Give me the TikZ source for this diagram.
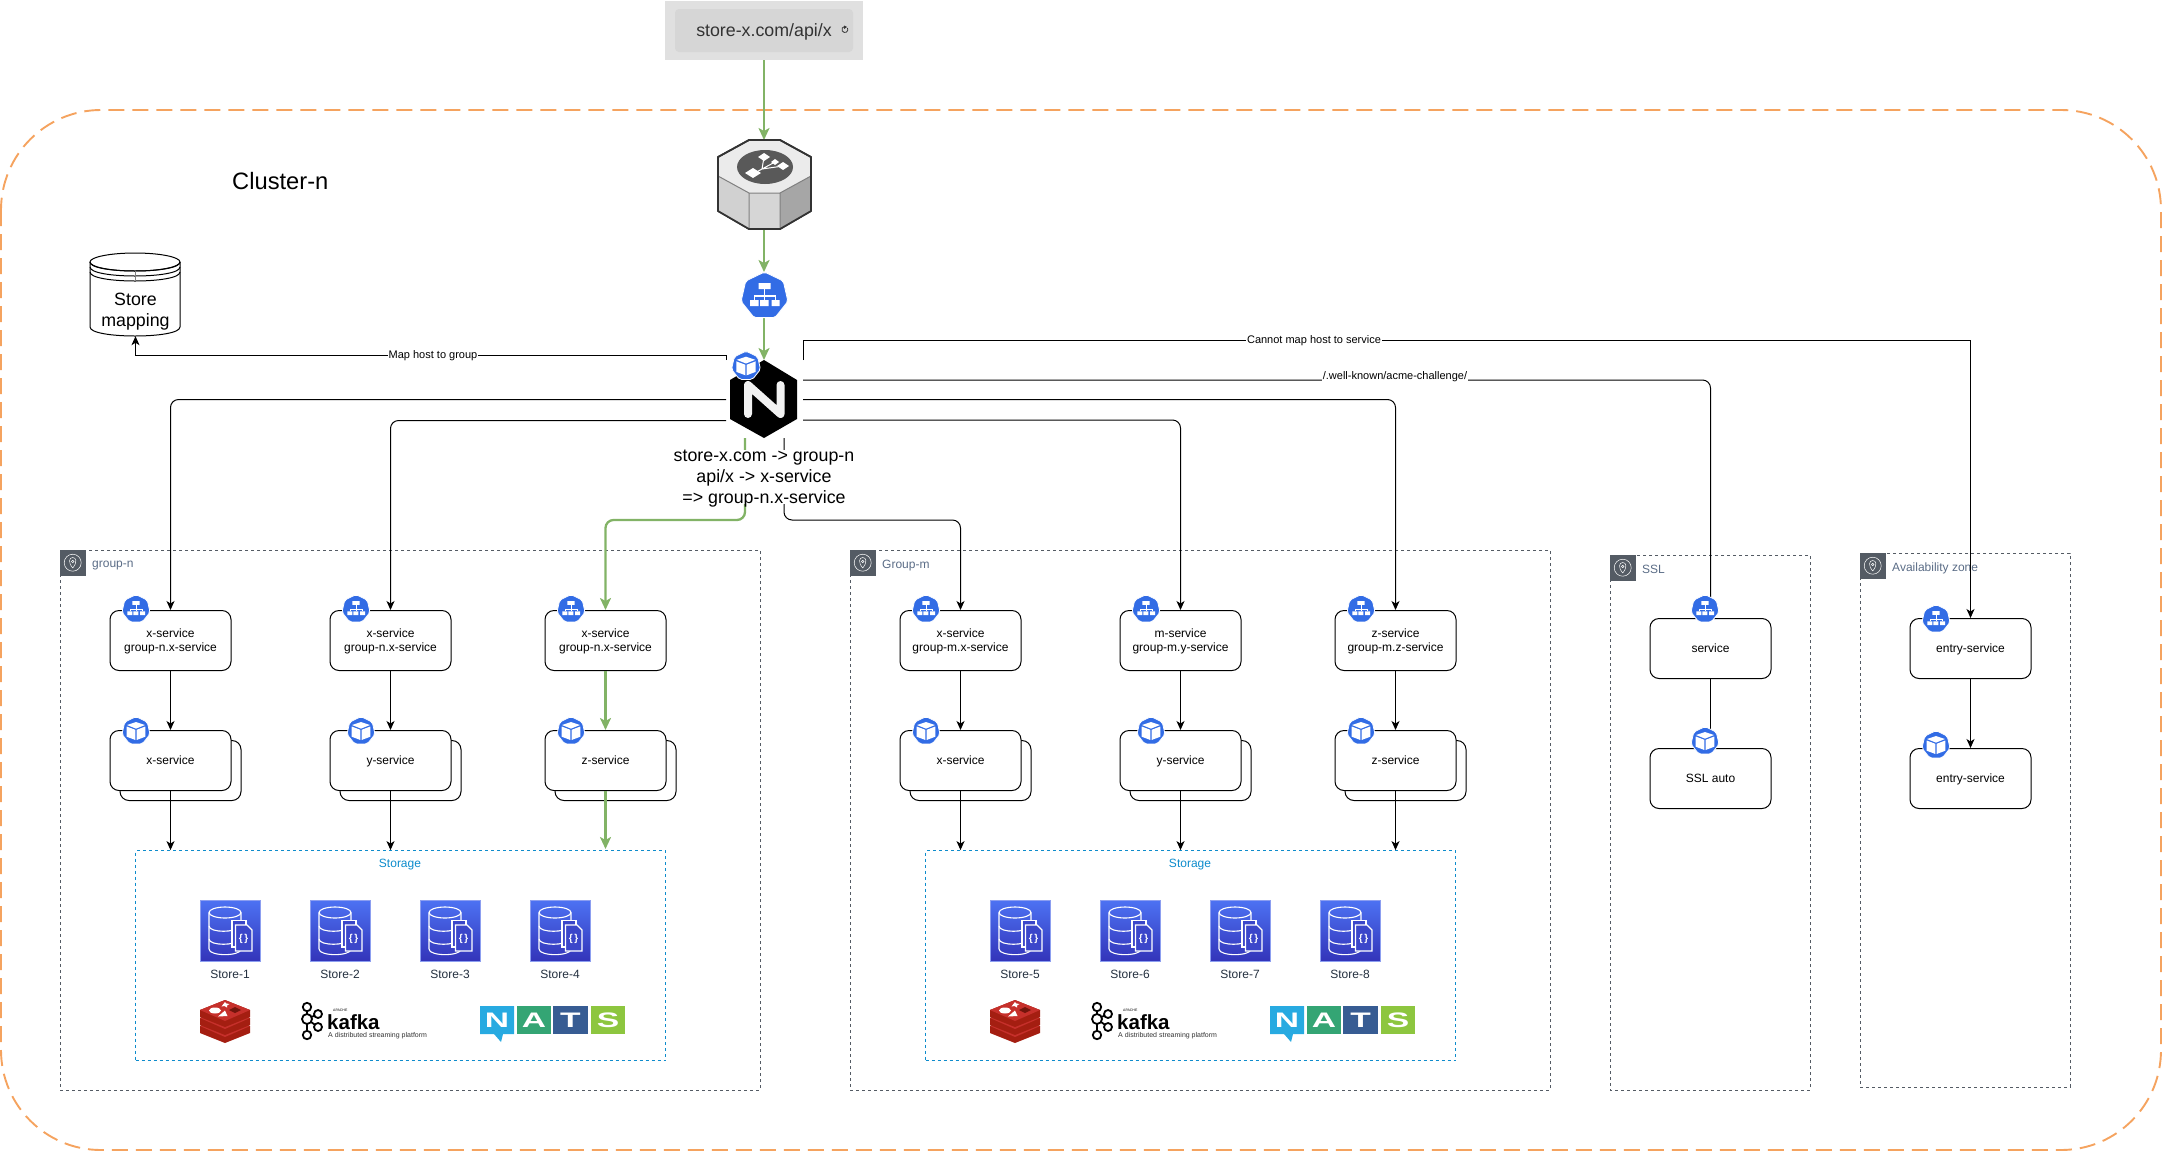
\documentclass[tikz,border=0pt]{standalone}
\usepackage{fontspec}
\setmainfont{Liberation Sans}
\usetikzlibrary{arrows.meta,positioning}
\definecolor{k8sblue}{HTML}{326CE5}
\definecolor{flowgreen}{HTML}{82B366}
\definecolor{clusterorange}{HTML}{F5A35F}
\definecolor{zonegrey}{HTML}{545B64}
\definecolor{zonetext}{HTML}{5A6C86}
\definecolor{storageblue}{HTML}{0E8CCC}
\definecolor{storetop}{HTML}{4D72F3}
\definecolor{storebot}{HTML}{3334B9}
\definecolor{storeedge}{HTML}{8C9EF0}
\definecolor{storename}{HTML}{232F3E}
\definecolor{redislight}{HTML}{C6302B}
\definecolor{redisdark}{HTML}{A41E11}
\definecolor{natsn}{HTML}{27AAE1}
\definecolor{natsa}{HTML}{34A574}
\definecolor{natst}{HTML}{375C93}
\definecolor{natss}{HTML}{8DC63F}
\tikzset{
 smalltext/.style={font=\fontsize{12}{14.2}\selectfont,inner sep=0pt,align=center,text depth=0pt},
 bigtext/.style={font=\fontsize{17.8}{21}\selectfont,inner sep=0pt,align=center,text depth=0pt},
 servicebox/.style={smalltext,draw,fill=white,line width=1pt,rounded corners=9pt,minimum width=121pt,minimum height=60pt},
 zoneline/.style={draw=zonegrey,line width=.8pt,dash pattern=on 3pt off 3pt},
 zonelabel/.style={smalltext,anchor=west,text=zonetext},
 storagebox/.style={draw=storageblue,line width=.8pt,dash pattern=on 3pt off 3pt,minimum width=530pt,minimum height=210pt},
 edgelabel/.style={font=\fontsize{11}{13}\selectfont,fill=white,inner sep=1pt},
 wire/.style={line width=1pt,-{Stealth[length=9pt,width=8pt,inset=2.5pt]}},
 bendwire/.style={wire,rounded corners=8pt},
 flow/.style={draw=flowgreen,line width=2.3pt,-{Stealth[length=12pt,width=11pt,inset=3pt]}},
 svcpic/.pic={
  \fill[k8sblue,draw=white,line width=.8pt,rounded corners=2pt] (-90:24)--(-38.6:24)--(12.9:24)--(64.3:24)--(115.7:24)--(167.1:24)--(218.6:24)--cycle;
  \fill[white] (-6,-13) rectangle (6,-7) (-14.3,4) rectangle (-6,10) (-4.3,4) rectangle (4,10) (7,4) rectangle (15,10);
  \draw[white] (0,-7)--(0,0) (-10,4)--(-10,0)--(11,0)--(11,4) (0,0)--(0,4);
 },
 podpic/.pic={
  \fill[k8sblue,draw=white,line width=.8pt,rounded corners=2pt] (-90:24)--(-38.6:24)--(12.9:24)--(64.3:24)--(115.7:24)--(167.1:24)--(218.6:24)--cycle;
  \fill[white] (0,-15)--(15,-10)--(0,-4)--(-15,-10)--cycle (-15.5,-7.5)--(-1,-2)--(-1,15)--(-15.5,9.5)--cycle (15.5,-7.5)--(1,-2)--(1,15)--(15.5,9.5)--cycle;
 },
 zonepic/.pic={
  \fill[zonegrey] (0,0) rectangle (25.5,25.5);
  \draw[white,line width=.5pt] (12.7,12.7) circle[radius=8.5];
  \draw[white,line width=.5pt] (12.7,18) .. controls (8,12.5) and (9,7.5) .. (12.7,7.5) .. controls (16.4,7.5) and (17.4,12.5) .. (12.7,18);
  \draw[white,line width=.5pt] (12.7,11.5) circle[radius=1.3];
 },
 storepic/.pic={
  \shade[top color=storetop,bottom color=storebot,draw=storeedge,line width=.9pt] (0,0) rectangle (60,61);
  \draw[white,line width=1.1pt] (25,12.5) ellipse[x radius=16,y radius=5.5];
  \draw[white,line width=1.1pt] (9,12.5)--(9,49) .. controls (9,56.5) and (41,56.5) .. (41,49)--(41,12.5);
  \draw[white,line width=1.1pt] (9,26) .. controls (9,33) and (38,33) .. (38,26) (9,39) .. controls (9,46) and (38,46) .. (38,39);
  \draw[white,line width=1.1pt,fill=storebot!70!storetop] (32,20.5)--(46,20.5)--(46,47)--(32,47)--cycle;
  \draw[white,line width=1.1pt,fill=storebot!70!storetop] (35.5,25)--(47,25)--(52,30)--(52,51)--(35.5,51)--cycle;
  \node[font=\fontsize{10}{12}\selectfont\bfseries,text=white,inner sep=0pt] (-braces) at (43.5,38.5) {\{\,\}};
 },
 redispic/.pic={
  \foreach \ly in {16,8,0} {
   \fill[redisdark] (0,10+\ly)--(25,\ly)--(50,10+\ly)--(50,17+\ly)--(25,27+\ly)--(0,17+\ly)--cycle;
   \fill[redislight] (0,10+\ly)--(25,\ly)--(50,10+\ly)--(25,21+\ly)--cycle;
  }
  \fill[white] (15,10.5) ellipse[x radius=6,y radius=3];
  \fill[white] (25,2)--(26.5,3.5)--(29.5,4)--(27,5.5)--(27,7.5)--(24.5,6)--(21.5,6.5)--(23,4.5)--cycle;
  \fill[white] (18,16.5)--(27.5,16)--(25,10.5)--cycle;
  \fill[redisdark!70!black] (29,10)--(35,7)--(41,10)--(35,13)--cycle;
 },
 kafkapic/.pic={
  \draw[line width=1.8pt] (7,7)--(7,35) (7,19)--(18,14) (7,19)--(18,27);
  \foreach \kx/\ky/\kr in {7/7/4.2,18/14/4,7/19/5,18/27/4,7/35/4.2} {\draw[line width=1.8pt,fill=white] (\kx,\ky) circle[radius=\kr];}
  \node[font=\fontsize{20.5}{24}\selectfont\bfseries,inner sep=0pt,anchor=west] (-word) at (27,22) {kafka};
  \node[font=\fontsize{3.5}{4}\selectfont,inner sep=0pt,anchor=west] (-apache) at (33,10.5) {APACHE};
  \node[font=\fontsize{7}{8}\selectfont,text=black!80,inner sep=0pt,anchor=west] (-tag) at (28,36) {A distributed streaming platform};
 },
 natspic/.pic={
  \fill[natsn] (0,0) rectangle (34,28) (14,28)--(21,36)--(23,28)--cycle;
  \fill[natsa] (37,0) rectangle (71,28);
  \fill[natst] (73,0) rectangle (108,28);
  \fill[natss] (111,0) rectangle (145,28);
  \foreach \nx/\nl in {17/N,54/A,90.5/T,128/S} {\node[font=\fontsize{21}{24}\selectfont\bfseries,text=white,inner sep=0pt,xscale=1.6,transform shape] (-\nl) at (\nx,14) {\nl};}
 },
}
\begin{document}
\begin{tikzpicture}[x=1pt,y=-1pt]
\useasboundingbox (0,0) rectangle (2163,1152);
\draw[clusterorange,line width=1.9pt,dash pattern=on 16pt off 8pt,rounded corners=100pt] (1,110) rectangle (2161,1150);
\node[font=\fontsize{23.7}{26}\selectfont,inner sep=0pt,anchor=west] (clustername) at (232,181) {Cluster-n};
\fill[black!12] (665,1) rectangle (863,60);
\node[bigtext,fill=black!16,rounded corners=4pt,minimum width=178pt,minimum height=43pt,text=black!80] (url) at (764,30.5) {store-x.com/api/x};
\draw[black!80,line width=.8pt] (847.5,28) arc[start angle=-30,end angle=260,radius=3];
\fill[black!80] (844,25.5)--(847,27)--(844,29)--cycle;
\coordinate (nuttop) at (764,140);
\coordinate (nutbot) at (764,229);
\coordinate (lbtop) at (764,272);
\coordinate (lbbot) at (764,318);
\coordinate (ngtop) at (764,360);
\coordinate (mapstart) at (726,360);
\coordinate (leftone) at (726,399.5);
\coordinate (lefttwo) at (726,420.5);
\coordinate (noservice) at (803,360);
\coordinate (acme) at (803,380);
\coordinate (rightone) at (803,399.5);
\coordinate (righttwo) at (803,420);
\coordinate (greenout) at (745,438);
\coordinate (blackout) at (784,438);
\foreach \zx/\zy/\zw/\zh in {60/550/700/540,850/550/700/540,1610/555/200/535,1860/553/210/534} {\draw[zoneline] (\zx,\zy) rectangle ++(\zw,\zh);}
\foreach \zname/\zx/\zy/\ztext in {zoneone/60/550/group-n,zonetwo/850/550/Group-m,zonethree/1610/555/SSL,zonefour/1860/553/Availability zone} {
 \pic at (\zx,\zy) {zonepic};
 \node[zonelabel] (\zname) at (\zx+32,\zy+14) {\ztext};
}
\foreach \g/\sft/\base in {n/0/0,m/790/4} {
 \node[storagebox] (storage\g) at (400.5+\sft,955.5) {};
 \node[smalltext,text=storageblue] (storagename\g) at (400+\sft,863) {Storage};
 \foreach \c in {1,2,3,4} {
  \pgfmathtruncatemacro\k{\c+\base}
  \pic (store\k) at (90+110*\c+\sft,900) {storepic};
  \node[smalltext,text=storename] (storename\k) at (120+110*\c+\sft,974) {Store-\k};
 }
 \pic at (200+\sft,1000) {redispic};
 \pic (kafka\g) at (300+\sft,1000) {kafkapic};
 \pic (nats\g) at (480+\sft,1006) {natspic};
}
\foreach \col/\cx/\head/\pod in {
 n1/170.5/{x-service\\group-n.x-service}/x-service,
 n2/390.5/{x-service\\group-n.x-service}/y-service,
 n3/605.5/{x-service\\group-n.x-service}/z-service,
 m1/960.5/{x-service\\group-m.x-service}/x-service,
 m2/1180.5/{m-service\\group-m.y-service}/y-service,
 m3/1395.5/{z-service\\group-m.z-service}/z-service} {
 \node[servicebox] (\col) at (\cx,640.5) {\head};
 \node[servicebox] (\col back) at (\cx+10,770.5) {};
 \node[servicebox] (\col pod) at (\cx,760.5) {\pod};
}
\node[servicebox] (ssl) at (1710.5,648.5) {service};
\node[servicebox] (sslpod) at (1710.5,778.5) {SSL auto};
\node[servicebox] (entry) at (1970.5,648.5) {entry-service};
\node[servicebox] (entrypod) at (1970.5,778.5) {entry-service};
\foreach \col in {n1,n2,m1,m2,m3} {\draw[wire] (\col) -- (\col pod);}
\foreach \col in {n1,n2} {\draw[wire] (\col pod.south) -- (\col pod.south |- storagen.north);}
\foreach \col in {m1,m2,m3} {\draw[wire] (\col pod.south) -- (\col pod.south |- storagem.north);}
\draw[flow] (n3) -- (n3pod);
\draw[flow] (n3pod.south) -- ++(0,58);
\draw[wire] (ssl) -- (sslpod);
\draw[wire] (entry) -- (entrypod);
\draw[bendwire] (leftone) -| (n1.north);
\draw[bendwire] (lefttwo) -| (n2.north);
\draw[bendwire] (rightone) -| (m3.north);
\draw[bendwire] (righttwo) -| (m2.north);
\draw[bendwire] (acme) -| (ssl.north);
\draw[wire] (noservice) -- ++(0,-19.5) -| (entry.north);
\draw[bendwire] (blackout) -- ++(0,82) -| (m1.north);
\draw[flow,rounded corners=8pt] (greenout) -- ++(0,82) -| (n3.north);
\node[bigtext,fill=white] (routing) at (764,477) {store-x.com -> group-n\\api/x -> x-service\\=> group-n.x-service};
\draw[flow] (url.south |- 0,60) -- (nuttop);
\draw[flow] (nutbot) -- (lbtop);
\draw[flow] (lbbot) -- (ngtop);
\draw[fill=black!8,draw=black!80,line width=1.7pt,line join=round] (749,140)--(780,140)--(811,157)--(811,176)--(811,211)--(780,229)--(749,229)--(718,211)--(718,157)--cycle;
\fill[black!18] (718,176)--(749,193)--(749,229)--(718,211)--cycle;
\fill[black!16] (749,193)--(780,193)--(780,229)--(749,229)--cycle;
\fill[black!35] (780,193)--(811,176)--(811,211)--(780,229)--cycle;
\draw[black!50,line width=1pt] (718,176)--(749,193)--(780,193)--(811,176) (749,193)--(749,229) (780,193)--(780,229);
\draw[black!80,line width=1.7pt,line join=round] (749,140)--(780,140)--(811,157)--(811,211)--(780,229)--(749,229)--(718,211)--(718,157)--cycle;
\fill[black!65] (765,167) ellipse[x radius=28,y radius=17];
\draw[white,line width=1pt] (762,169)--(764,157) (762,169)--(775,162) (762,169)--(783,166) (762,169)--(753,174);
\fill[white] (764,153)--(770,157)--(764,161)--(758,157)--cycle (783,162)--(789,166)--(783,170)--(777,166)--cycle (753,168)--(761,173)--(753,178)--(745,173)--cycle (775,159)--(779,162)--(775,165)--(771,162)--cycle;
\pic[line width=1.3pt] at (764.5,296) {svcpic};
\fill[black] (764,360)--(797,380)--(797,419)--(764,438)--(730,419)--(730,380)--cycle;
\draw[black!5,line width=8pt,line cap=round,line join=round] (748,414)--(748,385)--(780.5,414)--(780.5,385);
\pic[scale=.62] at (746,366) {podpic};
\foreach \sx/\px in {136/136,356/361,571/571,926/926,1146/1151,1361/1361} {
 \pic[scale=.6,line width=.8pt] at (\sx,609) {svcpic};
 \pic[scale=.6] at (\px,731) {podpic};
}
\pic[scale=.6,line width=.8pt] at (1705,609) {svcpic};
\pic[scale=.6] at (1705,741) {podpic};
\pic[scale=.6,line width=.8pt] at (1936,619) {svcpic};
\pic[scale=.6] at (1936,745) {podpic};
\draw[fill=white,line width=1pt] (90,262)--(90,327) .. controls (90,339) and (180,339) .. (180,327)--(180,262);
\draw[fill=white,line width=1pt] (135,262) ellipse[x radius=45,y radius=9];
\draw[line width=1pt] (90,262) .. controls (90,274) and (180,274) .. (180,262) (90,267) .. controls (90,279) and (180,279) .. (180,267) (90,272) .. controls (90,284) and (180,284) .. (180,272);
\draw[black!50,line width=.5pt] (135,271)--(135,281);
\node[bigtext,minimum width=90pt,minimum height=53pt] (mapping) at (135.5,309.5) {Store\\mapping};
\draw[wire] (mapstart) -- ++(0,-4.5) -| (mapping.south);
\node[edgelabel] (maplabel) at (433,356) {Map host to group};
\node[edgelabel] (cannotlabel) at (1314,341) {Cannot map host to service};
\node[edgelabel] (acmelabel) at (1395,377) {/.well-known/acme-challenge/};
\end{tikzpicture}
\end{document}
